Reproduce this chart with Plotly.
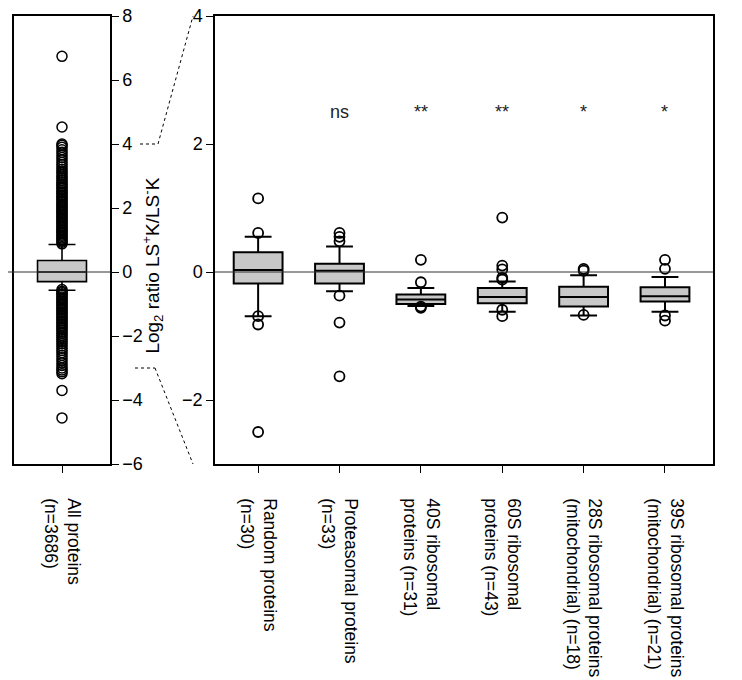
import plotly.graph_objects as go

# ---------------- data ----------------
all_label = ["All proteins<br>(n=3686)"]
all_q1 = [-0.30]
all_median = [0.0]
all_q3 = [0.36]
all_lower = [-0.57]
all_upper = [0.86]
all_outliers = [
    0.88, 0.93, 0.97, 1.02, 1.06, 1.11, 1.15, 1.2, 1.24, 1.29, 1.33, 1.38, 1.42,
    1.47, 1.52, 1.56, 1.61, 1.66, 1.7, 1.75, 1.8, 1.84, 1.89, 1.94, 1.98, 2.03,
    2.08, 2.12, 2.17, 2.22, 2.27, 2.31, 2.36, 2.41, 2.46, 2.5, 2.55, 2.6, 2.65,
    2.7, 2.75, 2.8, 2.86, 2.92, 2.97, 3.03, 3.09, 3.15, 3.21, 3.28, 3.35, 3.42,
    3.5, 3.58, 3.66, 3.74, 3.82, 3.9, 3.96, 4.0, 4.53, 6.74,
    -0.55, -0.6, -0.64, -0.69, -0.73, -0.78, -0.82, -0.87, -0.91, -0.96, -1.0,
    -1.05, -1.1, -1.14, -1.19, -1.24, -1.28, -1.33, -1.38, -1.43, -1.47, -1.52,
    -1.57, -1.62, -1.67, -1.72, -1.77, -1.82, -1.88, -1.93, -1.99, -2.05, -2.11,
    -2.17, -2.24, -2.31, -2.38, -2.45, -2.52, -2.6, -2.68, -2.76, -2.84, -2.92,
    -3.0, -3.06, -3.12, -3.18, -3.7, -4.56,
]

categories = [
    "Random proteins<br>(n=30)",
    "Proteasomal proteins<br>(n=33)",
    "40S ribosomal<br>proteins (n=31)",
    "60S ribosomal<br>proteins (n=43)",
    "28S ribosomal proteins<br>(mitochondrial) (n=18)",
    "39S ribosomal proteins<br>(mitochondrial) (n=21)",
]
q1 = [-0.18, -0.18, -0.50, -0.49, -0.54, -0.46]
median = [0.03, 0.02, -0.43, -0.39, -0.39, -0.38]
q3 = [0.31, 0.13, -0.35, -0.25, -0.23, -0.24]
lower_whisker = [-0.69, -0.30, -0.53, -0.62, -0.68, -0.62]
upper_whisker = [0.55, 0.40, -0.25, -0.15, -0.05, -0.08]
outliers = [
    [1.15, 0.61, -0.69, -0.82, -2.50],
    [0.61, 0.55, 0.48, -0.37, -0.79, -1.63],
    [0.19, -0.16, -0.54, -0.56],
    [0.85, 0.10, 0.04, -0.09, -0.12, -0.59, -0.69],
    [0.05, 0.02, -0.67],
    [0.19, 0.05, -0.68, -0.76],
]
significance = ["", "ns", "**", "**", "*", "*"]
sig_level = 2.5

left_ticks = [-6, -4, -2, 0, 2, 4, 6, 8]
main_ticks = [-2, 0, 2, 4]

# ---------------- figure ----------------
FONT = "Liberation Sans, Arial, sans-serif"
BOX_FILL = "#c8c8c8"
W, H = 742, 680
OFF = 8  # page body margin offset
ML, MR, MT, MB = 6, 37, 8, 224
PW = W - ML - MR

def px_to_paper(px):
    """page pixel x -> paper fraction"""
    return (px - OFF - ML) / PW

fig = go.Figure()

# left panel: all proteins
fig.add_trace(go.Box(
    x=all_label, q1=all_q1, median=all_median, q3=all_q3,
    lowerfence=all_lower, upperfence=all_upper,
    width=0.51, whiskerwidth=0.55, fillcolor=BOX_FILL,
    line=dict(color="black", width=1.6), boxpoints=False,
    xaxis="x", yaxis="y", hoverinfo="skip",
))
fig.add_trace(go.Scatter(
    x=all_label * len(all_outliers), y=all_outliers, mode="markers",
    marker=dict(symbol="circle-open", size=10, color="black", line=dict(width=1.5)),
    xaxis="x", yaxis="y", hoverinfo="skip",
))

# main panel
fig.add_trace(go.Box(
    x=categories, q1=q1, median=median, q3=q3,
    lowerfence=lower_whisker, upperfence=upper_whisker,
    width=0.6, whiskerwidth=0.55, fillcolor=BOX_FILL,
    line=dict(color="black", width=2), boxpoints=False,
    xaxis="x2", yaxis="y2", hoverinfo="skip",
))
ox, oy = [], []
for cat, vals in zip(categories, outliers):
    ox += [cat] * len(vals)
    oy += vals
fig.add_trace(go.Scatter(
    x=ox, y=oy, mode="markers",
    marker=dict(symbol="circle-open", size=10, color="black", line=dict(width=1.8)),
    xaxis="x2", yaxis="y2", hoverinfo="skip",
))

for cat, s in zip(categories, significance):
    if s:
        fig.add_annotation(x=cat, y=sig_level, xref="x2", yref="y2", text=s,
                           showarrow=False, font=dict(size=18, color="#222", family=FONT))

axis_common = dict(showline=True, linecolor="black", linewidth=1.5, mirror=True,
                   showgrid=False, zeroline=False, ticks="outside", ticklen=7,
                   tickcolor="black", tickwidth=1.2, automargin=False,
                   ticklabeloverflow="allow")
yfont = dict(size=18, family=FONT, color="black")
xfont = dict(size=17.5, family=FONT, color="black")

fig.update_layout(
    width=W, height=H,
    margin=dict(l=ML, r=MR, t=MT, b=MB, autoexpand=False),
    plot_bgcolor="white", paper_bgcolor="white",
    showlegend=False,
    font=dict(family=FONT, size=18, color="black"),
    xaxis=dict(domain=[0, px_to_paper(110)], type="category", range=[-0.5, 0.5],
               anchor="y", tickangle=90, ticklabelstandoff=22, tickfont=xfont,
               **axis_common),
    yaxis=dict(range=[-6, 8], side="right", anchor="x", tickvals=left_ticks,
               tickfont=yfont, **axis_common),
    xaxis2=dict(domain=[px_to_paper(215), 1], type="category", range=[-0.53, 5.59],
                anchor="y2", tickangle=90, ticklabelstandoff=22, tickfont=xfont,
                **axis_common),
    yaxis2=dict(range=[-3, 4], side="left", anchor="x2", tickvals=main_ticks,
                tickfont=yfont, **axis_common),
)

# zero lines
fig.add_shape(type="line", xref="paper", yref="y", x0=px_to_paper(0), x1=px_to_paper(110),
              y0=0, y1=0, line=dict(color="#333", width=1.2))
fig.add_shape(type="line", xref="x2 domain", yref="y2", x0=0, x1=1,
              y0=0, y1=0, line=dict(color="#333", width=1.2))

# zoom connector dashed lines (left axis units)
dash = dict(color="black", width=1, dash="3px,3px")
fig.add_shape(type="line", xref="paper", yref="y", x0=px_to_paper(140), x1=px_to_paper(158),
              y0=4, y1=4, line=dash)
fig.add_shape(type="line", xref="paper", yref="y", x0=px_to_paper(158), x1=px_to_paper(193),
              y0=4, y1=8, line=dash)
fig.add_shape(type="line", xref="paper", yref="y", x0=px_to_paper(135), x1=px_to_paper(155),
              y0=-3, y1=-3, line=dash)
fig.add_shape(type="line", xref="paper", yref="y", x0=px_to_paper(155), x1=px_to_paper(193),
              y0=-3, y1=-6, line=dash)

# y-axis title
fig.add_annotation(
    text="Log<sub>2</sub> ratio LS<sup>+</sup>K/LS<sup>-</sup>K",
    xref="paper", yref="y", x=px_to_paper(153), y=0.2, textangle=-90,
    xanchor="center", yanchor="middle",
    showarrow=False, font=dict(size=19, family=FONT, color="black"),
)

fig.write_html("out.html")
